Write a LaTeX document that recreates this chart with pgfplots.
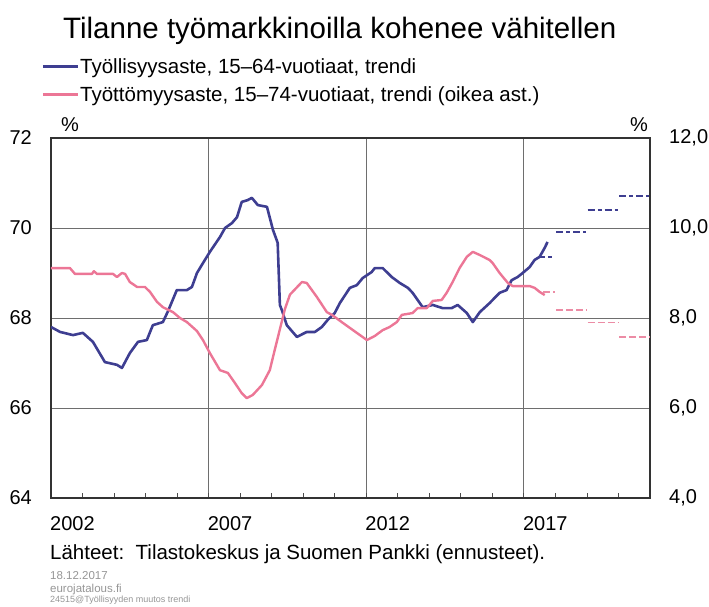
\documentclass[border=0pt]{standalone}
\usepackage{pgfplots}
\pgfplotsset{compat=1.18}
\usepackage{fontspec}
\setmainfont{Liberation Sans}
\definecolor{empblue}{RGB}{62,62,145}
\definecolor{unpink}{RGB}{236,118,150}
\definecolor{fcpink}{RGB}{236,140,165}
\definecolor{gridgray}{RGB}{110,110,110}
\definecolor{notegray}{RGB}{150,150,150}
\begin{document}
\begin{tikzpicture}
\useasboundingbox (-51pt,-108pt) rectangle (658pt,498pt);
\begin{axis}[
  at={(0pt,0pt)}, anchor=south west,
  scale only axis, width=599pt, height=360pt,
  xmin=2002, xmax=2021, ymin=64, ymax=72,
  xtick={2002,2007,2012,2017}, xticklabels={2002,2007,2012,2017},
  minor xtick={2003,2004,2005,2006,2008,2009,2010,2011,2013,2014,2015,2016,2018,2019,2020},
  ytick={64,66,68,70,72}, yticklabels={64,66,68,70,72},
  xmajorgrids, ymajorgrids,
  grid style={gridgray, line width=0.8pt},
  axis line style={black!80, line width=1.2pt},
  tick align=inside, xtick pos=left, ytick pos=left,
  every tick/.style={black!70, line width=0.8pt},
  ytick style={draw=none},
  major tick length=5pt, minor tick length=5pt,
  tick label style={font=\fontsize{20}{24}\selectfont, inner sep=0pt},
  xticklabel style={anchor=north west, yshift=-18pt, xshift=-1pt},
  yticklabel style={anchor=east, xshift=-19pt},
  unbounded coords=jump,
]
\addplot[empblue, line width=2.6pt, line join=round] coordinates {
(2002.00,67.80)(2002.29,67.69)(2002.70,67.62)(2003.01,67.67)(2003.33,67.47)
(2003.71,67.02)(2004.09,66.96)(2004.25,66.89)(2004.50,67.22)(2004.76,67.47)
(2005.04,67.51)(2005.23,67.84)(2005.55,67.91)(2005.71,68.15)(2005.99,68.62)
(2006.31,68.62)(2006.47,68.69)(2006.63,69.00)(2006.82,69.22)(2007.04,69.47)
(2007.36,69.80)(2007.52,70.00)(2007.74,70.11)(2007.90,70.24)(2008.05,70.58)
(2008.24,70.62)(2008.37,70.67)(2008.56,70.51)(2008.85,70.47)(2009.04,69.96)
(2009.19,69.67)(2009.26,68.29)(2009.32,68.18)(2009.48,67.84)(2009.80,67.58)
(2010.11,67.69)(2010.37,67.69)(2010.59,67.80)(2010.78,67.96)(2011.00,68.11)
(2011.16,68.33)(2011.48,68.67)(2011.70,68.73)(2011.89,68.89)(2012.17,69.02)
(2012.27,69.11)(2012.52,69.11)(2012.81,68.91)(2013.06,68.78)(2013.32,68.67)
(2013.47,68.56)(2013.70,68.33)(2013.79,68.24)(2014.11,68.29)(2014.42,68.22)
(2014.71,68.22)(2014.90,68.29)(2015.19,68.11)(2015.38,67.91)(2015.60,68.13)
(2015.91,68.33)(2016.23,68.56)(2016.45,68.62)(2016.61,68.84)(2016.80,68.91)
(2016.96,69.00)(2017.18,69.13)(2017.34,69.29)(2017.50,69.36)(2017.66,69.56)
(2017.75,69.69)
};
\addplot[empblue, line width=2pt, dash pattern=on 7pt off 3pt on 4pt off 3pt] coordinates {
(2017.45,69.36)(2017.98,69.36)(2018,nan)
(2018.02,69.92)(2018.98,69.92)(2019,nan)
(2019.02,70.40)(2019.98,70.40)(2020,nan)
(2020.02,70.72)(2020.98,70.72)
};
\end{axis}
\begin{axis}[
  at={(0pt,0pt)}, anchor=south west,
  scale only axis, width=599pt, height=360pt,
  xmin=2002, xmax=2021, ymin=4, ymax=12,
  axis y line*=right, axis x line=none,
  ytick={4,6,8,10,12}, yticklabels={{4,0},{6,0},{8,0},{10,0},{12,0}},
  ytick style={draw=none},
  axis line style={black!80, line width=1.2pt},
  tick label style={font=\fontsize{20}{24}\selectfont, inner sep=0pt},
  yticklabel style={anchor=west, xshift=19pt},
  unbounded coords=jump,
]
\addplot[unpink, line width=2.4pt, line join=round] coordinates {
(2002.00,9.11)(2002.60,9.11)(2002.76,8.98)(2003.30,8.98)(2003.36,9.04)
(2003.46,8.98)(2003.97,8.98)(2004.09,8.91)(2004.25,9.00)(2004.35,8.98)
(2004.50,8.80)(2004.73,8.69)(2004.98,8.69)(2005.14,8.58)(2005.36,8.36)
(2005.55,8.24)(2005.87,8.13)(2006.09,8.00)(2006.31,7.91)(2006.63,7.71)
(2006.82,7.51)(2007.04,7.22)(2007.36,6.84)(2007.61,6.78)(2007.83,6.56)
(2008.05,6.33)(2008.21,6.22)(2008.40,6.29)(2008.69,6.51)(2008.94,6.84)
(2009.10,7.30)(2009.26,7.75)(2009.42,8.20)(2009.58,8.52)(2009.96,8.80)
(2010.11,8.78)(2010.43,8.47)(2010.75,8.13)(2010.91,8.07)(2011.26,7.89)
(2011.70,7.67)(2012.02,7.51)(2012.27,7.60)(2012.52,7.73)(2012.74,7.80)
(2012.97,7.91)(2013.13,8.07)(2013.47,8.11)(2013.63,8.22)(2013.92,8.22)
(2014.11,8.38)(2014.39,8.40)(2014.55,8.56)(2014.74,8.80)(2014.96,9.11)
(2015.19,9.36)(2015.38,9.47)(2015.60,9.40)(2015.91,9.29)(2016.01,9.22)
(2016.23,9.00)(2016.49,8.78)(2016.64,8.71)(2017.18,8.71)(2017.34,8.67)
(2017.50,8.58)(2017.66,8.51)
};
\addplot[fcpink, line width=1.8pt, dash pattern=on 7pt off 3pt] coordinates {
(2017.62,8.58)(2017.98,8.58)(2018,nan)
(2018.02,8.18)(2018.98,8.18)(2019,nan)
(2019.02,7.90)(2019.98,7.90)(2020,nan)
(2020.02,7.58)(2020.98,7.58)
};
\end{axis}
% title and legend
\node[anchor=base west, inner sep=0pt, font=\fontsize{29.5}{34}\selectfont] at (12pt,459pt) {Tilanne työmarkkinoilla kohenee vähitellen};
\draw[empblue, line width=3pt] (-8pt,431pt) -- (27pt,431pt);
\node[anchor=base west, inner sep=0pt, font=\fontsize{20.5}{24}\selectfont] at (29pt,424pt) {Työllisyysaste, 15–64-vuotiaat, trendi};
\draw[unpink, line width=3pt] (-8pt,403pt) -- (27pt,403pt);
\node[anchor=base west, inner sep=0pt, font=\fontsize{20.5}{24}\selectfont] at (29pt,396pt) {Työttömyysaste, 15–74-vuotiaat, trendi (oikea ast.)};
% percent signs
\node[anchor=center, inner sep=0pt, font=\fontsize{20}{24}\selectfont] at (19pt,373pt) {\%};
\node[anchor=east, inner sep=0pt, font=\fontsize{20}{24}\selectfont] at (597pt,373pt) {\%};
% sources
\node[anchor=base west, inner sep=0pt, font=\fontsize{20.5}{24}\selectfont] at (-1pt,-61pt) {Lähteet:\ \ Tilastokeskus ja Suomen Pankki (ennusteet).};
\node[anchor=base west, inner sep=0pt, font=\fontsize{11.5}{13}\selectfont, text=notegray] at (-1pt,-81pt) {18.12.2017};
\node[anchor=base west, inner sep=0pt, font=\fontsize{11.5}{13}\selectfont, text=notegray] at (-1pt,-94pt) {eurojatalous.fi};
\node[anchor=base west, inner sep=0pt, font=\fontsize{9}{11}\selectfont, text=notegray] at (-1pt,-104pt) {24515@Työllisyyden muutos trendi};
\end{tikzpicture}
\end{document}
